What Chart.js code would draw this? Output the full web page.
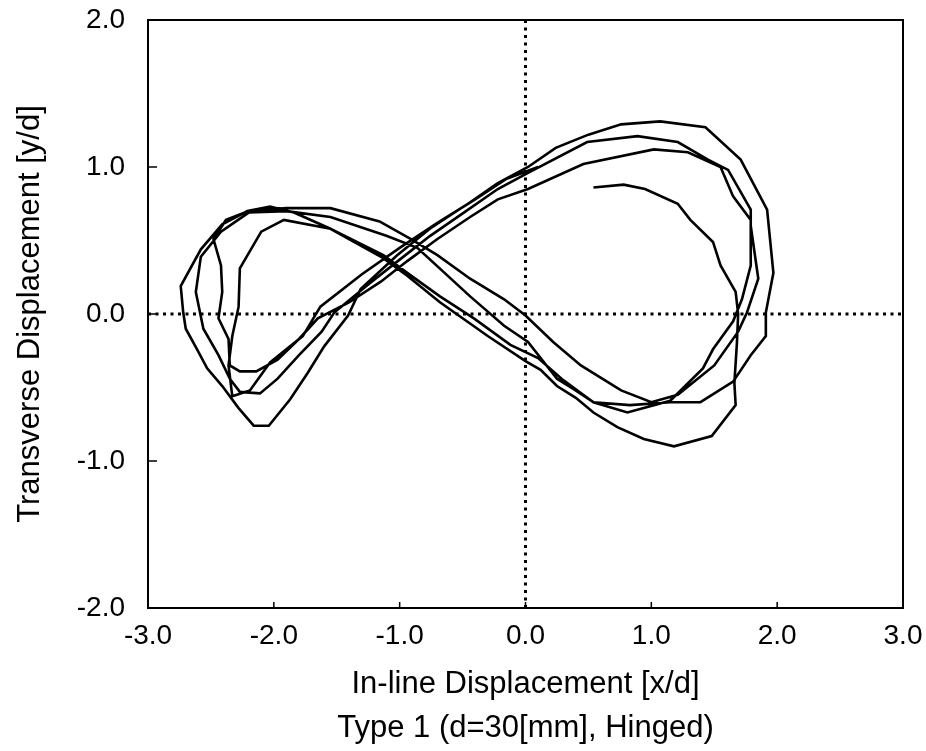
<!DOCTYPE html>
<html>
<head>
<meta charset="utf-8">
<script src="https://cdn.jsdelivr.net/npm/chart.js@4"></script>
<style>
  body { margin: 0; background: #fff; }
  #wrap { width: 926px; height: 751px; position: relative; }
</style>
</head>
<body>
<div id="wrap"><canvas id="orbit-chart"></canvas></div>
<script>
// trajectory of the cylinder tip (x/d, y/d)
const pathX = [
  0.54,0.78,0.95,1.21,1.31,1.49,1.55,1.67,1.69,1.68,1.66,1.67,1.48,1.18,0.94,0.73,0.54,0.40,0.25,0.12,0.00,
  -0.30,-0.68,-0.94,-1.13,-1.55,-1.84,-2.03,-2.21,
  -2.41,-2.58,-2.74,-2.72,-2.70,-2.61,-2.53,-2.41,-2.28,-2.16,-2.04,-1.87,-1.73,-1.60,-1.41,-1.31,
  -1.02,-0.76,-0.44,-0.22,0.02,
  0.24,0.50,0.76,1.07,1.43,1.71,1.92,1.97,1.91,
  1.91,1.79,1.65,1.39,1.15,0.83,0.54,0.38,0.25,0.02,
  -0.17,-0.44,-0.86,-1.10,-1.55,-1.90,-2.20,-2.42,
  -2.58,-2.62,-2.56,-2.44,-2.35,-2.27,-2.11,-1.97,-1.80,-1.62,-1.52,
  -1.25,-1.00,-0.76,-0.49,-0.22,0.02,
  0.49,0.89,1.21,1.45,1.61,1.79,1.79,1.85,1.76,
  1.69,1.50,1.21,1.00,0.76,0.44,0.22,0.00,
  -0.17,-0.44,-0.70,-0.91,-1.16,-1.55,-1.90,-2.20,-2.38,
  -2.48,-2.42,-2.41,-2.44,-2.36,-2.35,-2.27,-2.14,-1.97,-1.80,-1.65,
  -1.40,-1.15,-0.94,-0.70,-0.44,-0.22,0.02,
  0.46,1.02,1.29,1.55,1.65,1.79,1.79,1.72,
  1.65,1.49,1.41,1.15,0.81,0.54,0.30,0.10,-0.12,
  -0.41,-0.68,-0.94,-1.13,-1.55,-1.92,
  -2.10,-2.27,-2.28,-2.33,-2.36,-2.33,-2.19,-2.03,-1.77,-1.63,
  -1.30,-1.00,-0.70,-0.40,-0.15,0.10
];
const pathY = [
  0.86,0.88,0.85,0.75,0.64,0.49,0.33,0.15,0.00,-0.20,-0.47,-0.62,-0.83,-0.90,-0.85,-0.77,-0.67,-0.57,-0.49,-0.38,-0.32,
  -0.15,0.08,0.26,0.38,0.58,0.69,0.73,0.70,
  0.61,0.44,0.19,0.01,-0.10,-0.24,-0.37,-0.49,-0.64,-0.76,-0.76,-0.58,-0.40,-0.22,-0.01,0.17,
  0.40,0.58,0.76,0.89,1.00,
  1.13,1.22,1.29,1.31,1.27,1.05,0.71,0.28,0.01,
  -0.15,-0.28,-0.46,-0.60,-0.60,-0.62,-0.60,-0.51,-0.44,-0.19,
  -0.08,0.12,0.45,0.53,0.66,0.70,0.69,0.56,
  0.39,0.15,-0.10,-0.28,-0.44,-0.53,-0.54,-0.44,-0.28,-0.12,0.01,
  0.20,0.37,0.53,0.69,0.85,0.96,
  1.17,1.21,1.17,1.05,0.98,0.71,0.60,0.24,0.01,
  -0.12,-0.35,-0.55,-0.60,-0.52,-0.35,-0.19,-0.01,
  0.10,0.24,0.40,0.51,0.63,0.72,0.72,0.70,0.64,
  0.51,0.33,0.15,-0.03,-0.17,-0.35,-0.39,-0.39,-0.31,-0.17,-0.03,
  0.08,0.22,0.36,0.51,0.66,0.78,0.85,
  1.02,1.12,1.10,1.00,0.80,0.64,0.33,0.10,
  -0.05,-0.24,-0.37,-0.59,-0.67,-0.60,-0.45,-0.30,-0.21,
  -0.03,0.12,0.28,0.40,0.58,0.64,
  0.56,0.31,0.05,-0.15,-0.35,-0.56,-0.52,-0.33,-0.15,0.05,
  0.27,0.45,0.62,0.78,0.92,1.00
];
const xRange = [-3, 3];
const yRange = [-2, 2];
const xTickMarks = [-2, -1, 0, 1, 2];
const yTickMarks = [-1, 0, 1];

const orbit = pathX.map((x, i) => ({ x: x, y: pathY[i] }));
const zeroH = xRange.map(x => ({ x: x, y: 0 }));
const zeroV = yRange.map(y => ({ x: 0, y: y }));

Chart.defaults.font.family = '"Liberation Sans", Arial, Helvetica, sans-serif';
Chart.defaults.color = '#000';

// frame and inward tick marks like the original plot
const frame = {
  id: 'frame',
  afterDatasetsDraw(chart) {
    const { ctx, chartArea: a, scales } = chart;
    ctx.save();
    ctx.strokeStyle = '#000';
    ctx.lineWidth = 2;
    ctx.strokeRect(a.left, a.top, a.right - a.left, a.bottom - a.top);
    ctx.lineWidth = 1.5;
    ctx.beginPath();
    xTickMarks.forEach(v => {
      const px = scales.x.getPixelForValue(v);
      ctx.moveTo(px, a.bottom);
      ctx.lineTo(px, a.bottom - 6);
    });
    yTickMarks.forEach(v => {
      const py = scales.y.getPixelForValue(v);
      ctx.moveTo(a.left, py);
      ctx.lineTo(a.left + 9, py);
    });
    ctx.stroke();
    ctx.restore();
  }
};

let orbitChart = new Chart(document.getElementById('orbit-chart').getContext('2d'), {
  type: 'scatter',
  data: {
    datasets: [{
      data: orbit,
      showLine: true,
      borderColor: '#000',
      borderWidth: 2.6,
      pointRadius: 0,
      tension: 0
    }, {
      data: zeroH,
      showLine: true,
      borderColor: '#000',
      borderWidth: 3,
      borderDash: [3, 4.5],
      pointRadius: 0
    }, {
      data: zeroV,
      showLine: true,
      borderColor: '#000',
      borderWidth: 3,
      borderDash: [3, 4.5],
      pointRadius: 0
    }]
  },
  options: {
    responsive: true,
    maintainAspectRatio: false,
    animation: false,
    layout: { padding: { left: 0, right: 23, top: 20, bottom: 0 } },
    plugins: {
      legend: { display: false },
      tooltip: { enabled: false },
      title: {
        display: true,
        position: 'bottom',
        fullSize: false,
        text: 'Type 1 (d=30[mm], Hinged)',
        font: { size: 31, weight: 'normal', lineHeight: 1.2 },
        color: '#000',
        padding: { top: 0, bottom: 4.4 }
      }
    },
    scales: {
      x: {
        type: 'linear',
        min: xRange[0],
        max: xRange[1],
        grid: { display: false, drawTicks: false },
        border: { display: false },
        ticks: {
          stepSize: 1,
          padding: 11,
          font: { size: 28 },
          callback: v => v.toFixed(1)
        },
        title: {
          display: true,
          text: 'In-line Displacement [x/d]',
          font: { size: 31, lineHeight: 1.2 },
          padding: { top: 0, bottom: 6.8 }
        },
        afterFit: s => {
          s.height = 101.4;
          s.paddingLeft = 0;
          s.paddingRight = 0;
        }
      },
      y: {
        type: 'linear',
        min: yRange[0],
        max: yRange[1],
        grid: { display: false, drawTicks: false },
        border: { display: false },
        ticks: {
          stepSize: 1,
          padding: 23,
          font: { size: 28 },
          callback: v => v.toFixed(1)
        },
        title: {
          display: true,
          text: 'Transverse Displacement [y/d]',
          font: { size: 31, lineHeight: 1.2 },
          padding: { top: 11.4, bottom: 0 }
        },
        afterFit: s => {
          s.width = 148;
          s.paddingTop = 0;
          s.paddingBottom = 0;
        }
      }
    }
  },
  plugins: [frame]
});
</script>
</body>
</html>
